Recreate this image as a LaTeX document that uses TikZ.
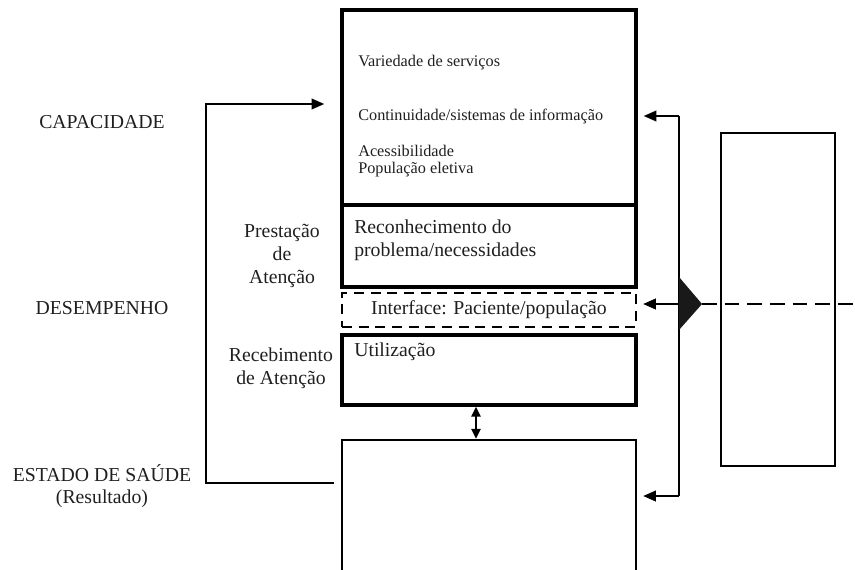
\documentclass[tikz,border=0pt]{standalone}
\usepackage{fontspec}
\setmainfont{Liberation Serif}
\usetikzlibrary{arrows.meta,fit}

\begin{document}
\begin{tikzpicture}[x=0.75pt,y=-0.75pt,
  >={Triangle[length=9.5pt,width=8pt]},
  box/.style={draw,line width=2.6pt,inner sep=0pt},
  thinbox/.style={draw,line width=1.8pt,inner sep=0pt},
  dashbox/.style={draw,line width=1.7pt,inner sep=0pt,dash pattern=on 7.5pt off 5pt},
  big/.style={font=\fontsize{14.8}{17}\selectfont,text=black!88,align=center,inner sep=0pt},
  small/.style={font=\fontsize{12.2}{13}\selectfont,text=black!88,align=left,inner sep=0pt},
  link/.style={line width=1.3pt}]
\useasboundingbox (0,0) rectangle (855,570);
\clip (0,0) rectangle (855,570);

% boxes
\node[box, fit={(342,10) (636,205)}] (cap) {};
\node[box, fit={(342,205) (636,287)}] (rec) {};
\node[dashbox, fit={(342,293) (636,327)}] (inter) {};
\node[box, fit={(342,335) (636,405)}] (util) {};
\node[thinbox, fit={(342,440) (636,600)}] (est) {};
\node[thinbox, fit={(721,133) (835,466)}] (ctx) {};

% texts in the boxes
\node[small, anchor=west] (var) at (358,63) {Variedade de serviços};
\node[small, anchor=west] (cont) at (358,117) {Continuidade/sistemas de informação};
\node[small, anchor=west] (acc) at (358,161) {Acessibilidade\\População eletiva};
\node[big, anchor=west, align=left] (reco) at (354,240) {Reconhecimento do\\problema/necessidades};
\node[big] (ilab) at (489,310) {Interface: Paciente/população};
\node[big, anchor=west] (ulab) at (354,352) {Utilização};

% labels on the left
\node[big] (lcap) at (102,122) {CAPACIDADE};
\node[big] (ldes) at (102,308) {DESEMPENHO};
\node[big] (lest) at (102,486) {ESTADO DE SAÚDE\\(Resultado)};
\node[big] (pres) at (282,256) {Prestação\\de\\Atenção};
\node[big] (receb) at (281,368) {Recebimento\\de Atenção};

% feedback
\coordinate (lb) at (206,483);
\coordinate (lt) at (206,104);
\draw[link,->,shorten <=5pt,shorten >=12pt] (est.west |- lb) -- (lb) -- (lt) -- (cap.west |- lt);

\coordinate (rt) at (679,116);
\coordinate (rm) at (679,304);
\coordinate (rb) at (679,496);
\draw[link] (rt) -- (rb);
\draw[link,->,shorten >=4.5pt] (rt) -- (cap.east |- rt);
\draw[link,->,shorten >=4.5pt] (rm) -- (inter.east |- rm);
\draw[link,->,shorten >=4.5pt] (rb) -- (est.east |- rb);
\fill[black!90] (rm) ++(0,-27) -- ++(23,27) coordinate (tip) -- ++(-23,26) -- cycle;
\coordinate (rend) at (855,304);
\draw[line width=1.6pt,dash pattern=on 11pt off 6pt] (tip) -- (rend);

\draw[link,<->,>={Triangle[length=7.5pt,width=7pt]}] ([xshift=-9.75pt]util.south) -- ([xshift=-9.75pt]est.north);
\end{tikzpicture}
\end{document}
